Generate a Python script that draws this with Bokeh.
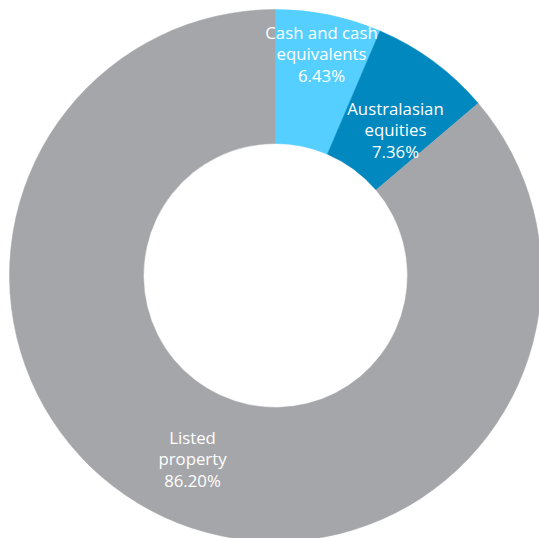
import math
from bokeh.plotting import figure
from bokeh.models import ColumnDataSource, Range1d
from bokeh.core.properties import value
from bokeh.embed import file_html
from bokeh.resources import INLINE

# data
categories = ["Cash and cash equivalents", "Australasian equities", "Listed property"]
shares = [6.43, 7.36, 86.20]
colors = ["#55CFFF", "#0088BF", "#A5A6AA"]
label_lines = [["Cash and cash", "equivalents", "6.43%"],
               ["Australasian", "equities", "7.36%"],
               ["Listed", "property", "86.20%"]]
# label anchor (centre of label block) in data units relative to donut centre
label_x = [46, 120, -83]
label_y = [222, 146, -183]

total = sum(shares)
starts, ends = [], []
acc = 0.0
for s in shares:
    starts.append(math.pi / 2 - 2 * math.pi * acc / total)
    acc += s
    ends.append(math.pi / 2 - 2 * math.pi * acc / total)

src = ColumnDataSource(dict(cat=categories, start=starts, end=ends, color=colors))

W, H = 539, 538
p = figure(width=W, height=H, output_backend="svg", toolbar_location=None,
           x_range=Range1d(-275, 264), y_range=Range1d(-263, 275),
           min_border=0)
p.axis.visible = False
p.grid.visible = False
p.outline_line_color = None
p.background_fill_color = "white"
p.border_fill_color = "white"

p.annular_wedge(x=0, y=0, inner_radius=132, outer_radius=266,
                start_angle="start", end_angle="end", direction="clock",
                fill_color="color", line_color="color", line_width=0.5,
                source=src)

tx, ty, tt = [], [], []
spacing = 21.5
for lines, cx, cy in zip(label_lines, label_x, label_y):
    n = len(lines)
    for i, t in enumerate(lines):
        tx.append(cx)
        ty.append(cy + (n - 1) / 2 * spacing - i * spacing)
        tt.append(t)
p.text(x=tx, y=ty, text=tt, text_color="white", text_font=value("Open Sans"),
       text_font_size="16.8px", text_align="center", text_baseline="middle")

open("out.html", "w").write(file_html(p, INLINE))
